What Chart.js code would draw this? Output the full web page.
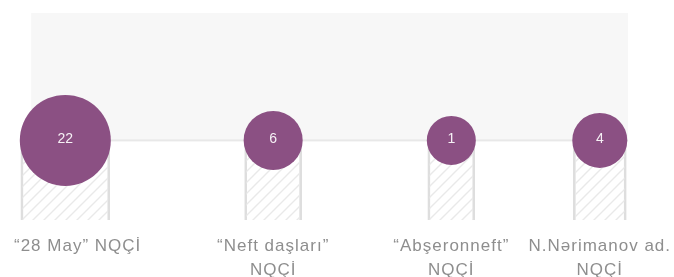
<!DOCTYPE html>
<html>
<head>
<meta charset="utf-8">
<script src="https://cdn.jsdelivr.net/npm/chart.js@4"></script>
<style>
  html, body { margin: 0; padding: 0; background: #fff; }
</style>
</head>
<body>
<canvas id="myChart" width="674" height="277"></canvas>
<script>
// categories (one or two text lines each)
const categories = [
    ['“28 May” NQÇİ'],
    ['“Neft daşları”', 'NQÇİ'],
    ['“Abşeronneft”', 'NQÇİ'],
    ['N.Nərimanov ad.', 'NQÇİ']
]
// value shown inside each bubble
const counts = [22, 6, 1, 4]
// x value of each bubble on the horizontal axis
const xs = [0, 7, 13, 18]

const purple = '#8b5083'
const lineGray = '#dedede'

// bubble radius grows with the count
const radiusFor = v => 23.5 + v

function hatch() {
    const c = document.createElement('canvas')
    c.width = 11
    c.height = 11
    const g = c.getContext('2d')
    g.strokeStyle = '#e9e9e9'
    g.lineWidth = 1.4
    g.beginPath()
    g.moveTo(-1, 12); g.lineTo(12, -1)
    g.moveTo(-2, 2); g.lineTo(2, -2)
    g.moveTo(9, 13); g.lineTo(13, 9)
    g.stroke()
    return g.createPattern(c, 'repeat')
}
const hatchFill = hatch()

// grey band behind the bubbles plus its bottom rule
const bandPlugin = {
    id: 'band',
    beforeDatasetsDraw(chart) {
        const {ctx, scales: {x, y}} = chart
        const left = x.getPixelForValue(xs[0] - 1.15)
        const right = x.getPixelForValue(xs[xs.length - 1] + 0.95)
        const top = y.getPixelForValue(y.max)
        const base = y.getPixelForValue(0)
        ctx.save()
        ctx.fillStyle = '#f7f7f7'
        ctx.fillRect(left, top, right - left, base - top)
        ctx.fillStyle = '#e8e8e8'
        ctx.fillRect(left, base - 1, right - left, 2)
        ctx.restore()
    }
}

// numbers in the bubbles and category names under the bars
const labelPlugin = {
    id: 'labels',
    afterDatasetsDraw(chart) {
        const {ctx, chartArea} = chart
        const bubbles = chart.getDatasetMeta(0).data
        ctx.save()
        ctx.textAlign = 'center'
        ctx.textBaseline = 'middle'
        ctx.fillStyle = 'rgba(255,255,255,0.92)'
        ctx.font = '14px "Liberation Sans", Arial, sans-serif'
        bubbles.forEach((pt, i) => {
            ctx.fillText(String(counts[i]), pt.x, pt.y - 1)
        })

        ctx.fillStyle = '#8e8e8e'
        ctx.font = '17px "Liberation Sans", Arial, sans-serif'
        ctx.letterSpacing = '1px'
        bubbles.forEach((pt, i) => {
            categories[i].forEach((line, j) => {
                const w = ctx.measureText(line).width
                let cx = pt.x
                if (cx - w / 2 < 14) cx = 14 + w / 2
                if (cx + w / 2 > chart.width - 2) cx = chart.width - 2 - w / 2
                ctx.fillText(line, cx, chartArea.bottom + 26 + j * 24)
            })
        })
        ctx.restore()
    }
}

const bars = counts.map((v, i) => ({
    type: 'bar',
    data: [{x: xs[i], y: [-1, 0]}],
    barThickness: radiusFor(v) * 2 - 2,
    grouped: false,
    backgroundColor: hatchFill,
    borderColor: lineGray,
    borderWidth: {left: 2, right: 2, top: 0, bottom: 0},
    borderSkipped: false,
    order: 2
}))

new Chart(document.getElementById('myChart'), {
    data: {
        datasets: [
            {
                type: 'bubble',
                data: counts.map((v, i) => ({x: xs[i], y: 0, r: radiusFor(v)})),
                backgroundColor: purple,
                borderWidth: 0,
                hoverRadius: 0,
                clip: false,
                order: 1
            },
            ...bars
        ]
    },
    options: {
        responsive: false,
        animation: false,
        events: [],
        layout: {autoPadding: false, padding: {top: 13, bottom: 57, left: 0, right: 0}},
        plugins: {legend: {display: false}, tooltip: {enabled: false}},
        scales: {
            x: {type: 'linear', min: -2.2, max: 20.5, offset: false, display: false},
            y: {type: 'linear', min: -1, max: 1.6, display: false}
        }
    },
    plugins: [bandPlugin, labelPlugin]
})
</script>
</body>
</html>
